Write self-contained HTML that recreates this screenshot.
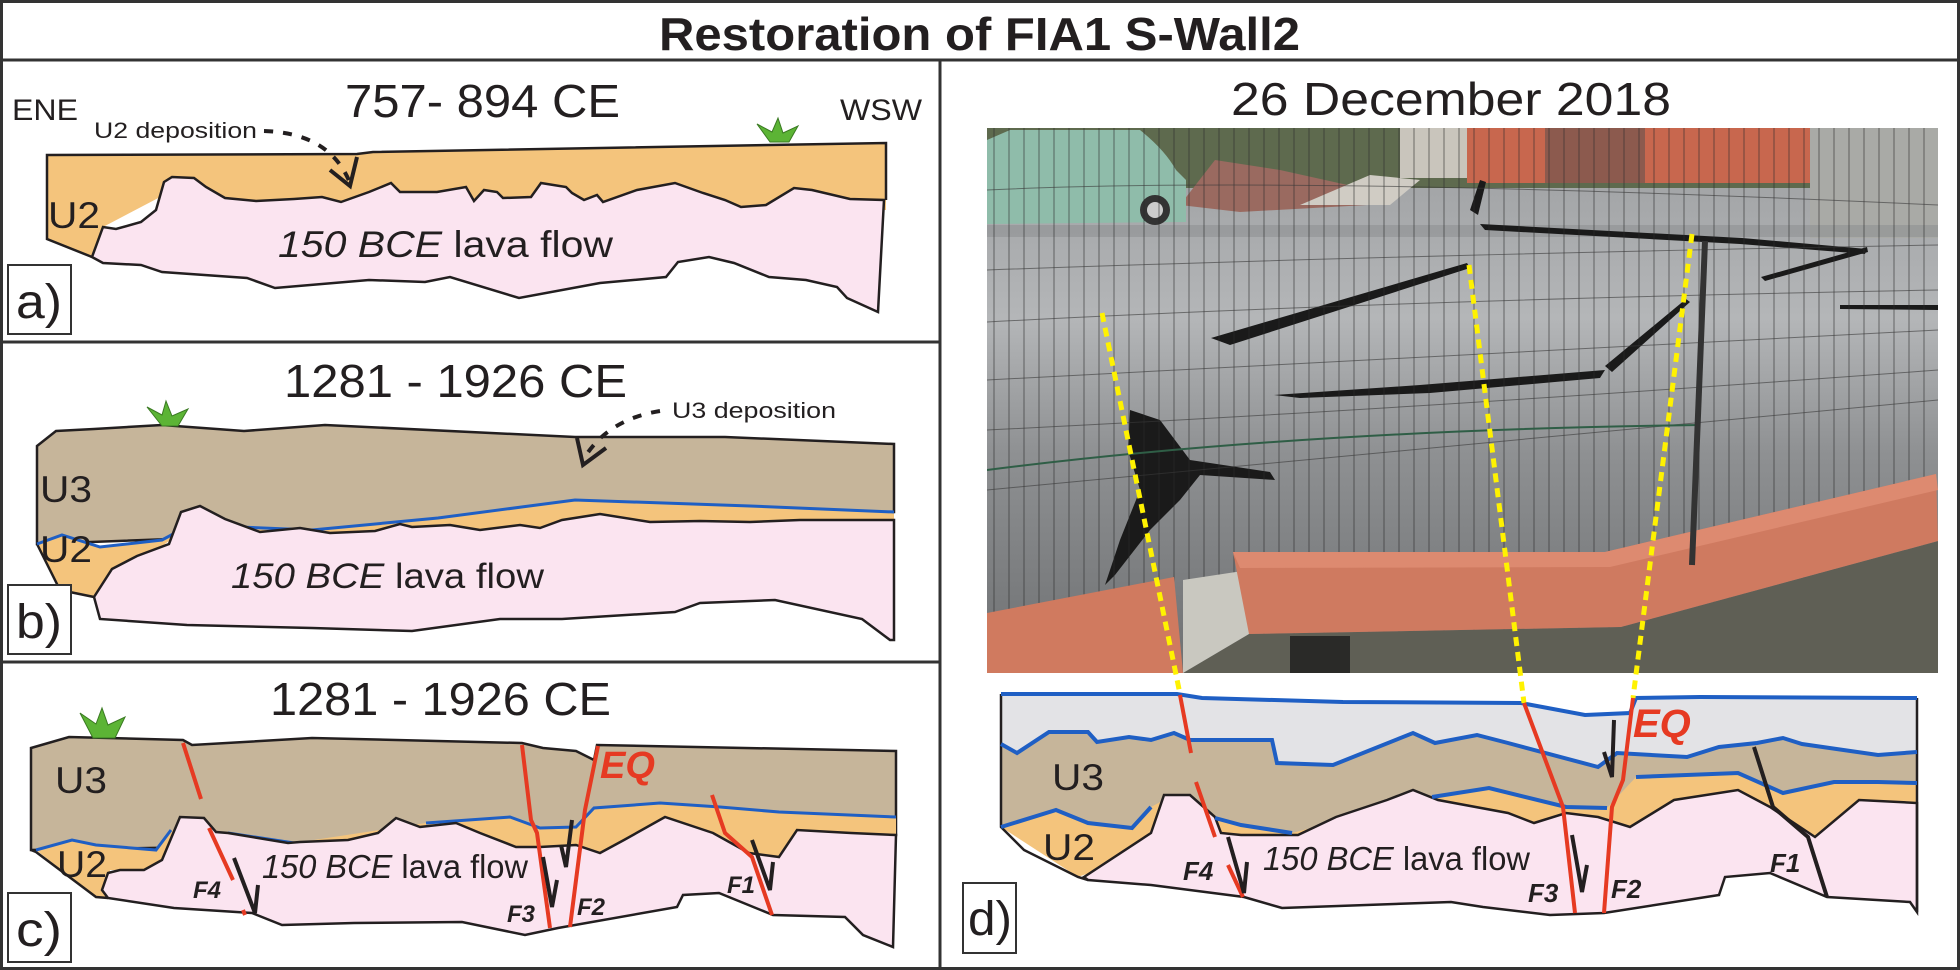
<!DOCTYPE html>
<html><head><meta charset="utf-8"><style>html,body{margin:0;padding:0;background:#fff}svg{display:block}text{font-family:"Liberation Sans",Arial,sans-serif;fill:#231f20}</style></head>
<body>
<svg width="1960" height="970" viewBox="0 0 1960 970" xmlns="http://www.w3.org/2000/svg">
<defs>
<pattern id="fence" x="987" y="0" width="15" height="30" patternUnits="userSpaceOnUse">
<line x1="7" y1="0" x2="7" y2="30" stroke="#2a2a2a" stroke-width="1" opacity="0.6"/>
</pattern>
<linearGradient id="asph" x1="0" y1="0" x2="0" y2="1">
<stop offset="0" stop-color="#9c9ea0"/><stop offset="0.35" stop-color="#b4b6b8"/><stop offset="0.6" stop-color="#8e9092"/><stop offset="1" stop-color="#6e7072"/>
</linearGradient>
<clipPath id="ph"><rect x="987" y="128" width="951" height="545"/></clipPath>
</defs>
<rect width="1960" height="970" fill="#fff"/>
<rect x="1.5" y="1.5" width="1957" height="967" fill="none" stroke="#333" stroke-width="3"/>
<line x1="0" y1="60" x2="1960" y2="60" stroke="#333" stroke-width="3"/>
<line x1="940" y1="60" x2="940" y2="970" stroke="#333" stroke-width="3"/>
<line x1="0" y1="342" x2="940" y2="342" stroke="#333" stroke-width="3"/>
<line x1="0" y1="662" x2="940" y2="662" stroke="#333" stroke-width="3"/>
<text x="659" y="50" font-size="46" font-weight="bold" textLength="641" lengthAdjust="spacingAndGlyphs">Restoration of FIA1 S-Wall2</text>

<!-- Panel a -->
<text x="345" y="117" font-size="46" textLength="275" lengthAdjust="spacingAndGlyphs">757- 894 CE</text>
<text x="12" y="120" font-size="30" textLength="66" lengthAdjust="spacingAndGlyphs">ENE</text>
<text x="840" y="120" font-size="30" textLength="82" lengthAdjust="spacingAndGlyphs">WSW</text>
<text x="94" y="138" font-size="22" textLength="163" lengthAdjust="spacingAndGlyphs">U2 deposition</text>
<polygon points="47,155 357,154 373,152 886,143 886,210 300,210 164,195 103,227 92,257 47,239" fill="#f4c47c"/>
<path d="M92 257 L47 239 L47 155 L357 154 L373 152 L886 143 L886 200" fill="none" stroke="#231f20" stroke-width="2.5"/>
<polygon points="92,257 103,227 116,229 141,222 156,210 164,182 172,177 194,178 206,187 225,198 256,201 294,199 322,197 341,202 369,192 391,183 400,192 437,192 466,187 474,201 484,190 497,192 503,198 531,197 541,183 566,187 572,193 584,200 597,195 603,202 637,190 675,183 703,193 725,200 741,207 766,205 794,188 812,190 850,199 884,200 878,312 847,298 837,287 806,280 769,277 734,263 709,257 678,262 666,277 600,283 519,298 450,277 425,282 369,280 275,288 247,278 162,272 141,265 103,263" fill="#fbe4f0" stroke="#231f20" stroke-width="2.5"/>
<text x="48" y="228" font-size="37" textLength="52" lengthAdjust="spacingAndGlyphs">U2</text>
<text x="278" y="257" font-size="37" textLength="335" lengthAdjust="spacingAndGlyphs"><tspan font-style="italic">150 BCE</tspan> lava flow</text>
<path d="M264 131 Q330 133 350 183" fill="none" stroke="#231f20" stroke-width="4" stroke-dasharray="9,10"/>
<path d="M330 170 L350 186 L357 157" fill="none" stroke="#231f20" stroke-width="4"/>
<path d="M770 142 L757 124 L772 132 L778 118 L783 133 L798 126 L789 142 Z" fill="#5cb435" stroke="#3a7a22" stroke-width="1"/>
<rect x="8" y="265" width="63" height="69" fill="#fff" stroke="#333" stroke-width="2"/>
<text x="16" y="318" font-size="48" textLength="46" lengthAdjust="spacingAndGlyphs">a)</text>

<!-- Panel b -->
<text x="284" y="397" font-size="46" textLength="343" lengthAdjust="spacingAndGlyphs">1281 - 1926 CE</text>
<text x="672" y="418" font-size="22" textLength="164" lengthAdjust="spacingAndGlyphs">U3 deposition</text>
<polygon points="37,446 56,431 94,429 162,425 244,431 325,425 575,437 725,437 894,444 894,512 37,544" fill="#c6b59a" stroke="#231f20" stroke-width="2.5"/>
<polygon points="37,544 62,535 100,547 162,540 190,525 312,530 438,518 575,500 750,506 894,512 894,532 181,532 94,597 60,590" fill="#f4c47c" stroke="none"/>
<path d="M37 544 L60 590 L94 597" fill="none" stroke="#231f20" stroke-width="2.5"/>
<polyline points="37,544 62,535 100,547 162,540 190,525 312,530 438,518 575,500 750,506 894,512" fill="none" stroke="#1f5fc4" stroke-width="3"/>
<polygon points="94,597 112,569 137,556 169,544 181,512 200,506 225,519 260,532 300,528 330,533 375,531 400,524 412,527 450,525 480,530 520,525 540,528 562,520 600,514 650,522 700,521 750,522 800,520 894,520 894,640 890,640 862,619 775,600 700,603 675,612 562,619 500,619 412,631 312,628 187,625 100,619" fill="#fbe4f0" stroke="#231f20" stroke-width="2.5"/>
<text x="40" y="502" font-size="37" textLength="52" lengthAdjust="spacingAndGlyphs">U3</text>
<text x="40" y="562" font-size="37" textLength="52" lengthAdjust="spacingAndGlyphs">U2</text>
<text x="231" y="588" font-size="35" textLength="313" lengthAdjust="spacingAndGlyphs"><tspan font-style="italic">150 BCE</tspan> lava flow</text>
<path d="M660 411 Q605 420 582 462" fill="none" stroke="#231f20" stroke-width="4" stroke-dasharray="9,10"/>
<path d="M577 438 L583 465 L606 448" fill="none" stroke="#231f20" stroke-width="4"/>
<path d="M162 426 L147 407 L162 415 L166 401 L172 416 L188 409 L178 426 Z" fill="#5cb435" stroke="#3a7a22" stroke-width="1"/>
<rect x="8" y="585" width="63" height="69" fill="#fff" stroke="#333" stroke-width="2"/>
<text x="16" y="638" font-size="48" textLength="46" lengthAdjust="spacingAndGlyphs">b)</text>

<!-- Panel c -->
<text x="270" y="715" font-size="46" textLength="341" lengthAdjust="spacingAndGlyphs">1281 - 1926 CE</text>
<polygon points="31,748 69,737 183,740 192,745 312,738 522,743 543,748 576,751 594,760 597,745 896,751 896,835 31,850" fill="#c6b59a" stroke="#231f20" stroke-width="2.5"/>
<polygon points="36,850 72,840 96,845 156,850 171,830 228,833 294,843 426,823 510,817 540,828 576,827 594,808 660,803 720,807 779,812 896,817 896,870 110,870 108,898 96,897" fill="#f4c47c"/>
<path d="M31 850 L36 852 L96 897 L108 898" fill="none" stroke="#231f20" stroke-width="2.5"/>
<polyline points="36,850 72,840 96,845 156,850 171,830" fill="none" stroke="#1f5fc4" stroke-width="3"/>
<polyline points="228,833 294,843" fill="none" stroke="#1f5fc4" stroke-width="3"/>
<polyline points="426,823 510,817 540,828 576,827 594,808 660,803 720,807 779,812 896,817" fill="none" stroke="#1f5fc4" stroke-width="3"/>
<polygon points="108,873 120,870 144,870 162,860 180,817 204,818 216,832 228,833 288,843 300,842 348,840 378,833 396,818 420,827 456,823 480,833 516,847 540,847 576,845 600,853 624,840 665,817 713,833 749,853 779,857 797,830 851,833 896,835 893,947 863,935 845,917 773,915 719,893 683,895 677,907 558,928 525,935 462,922 354,923 282,925 252,913 174,908 108,898 102,890" fill="#fbe4f0" stroke="#231f20" stroke-width="2.5"/>
<g stroke="#e63a22" stroke-width="4" fill="none">
<path d="M183 743 L201 799"/><path d="M209 828 L233 880"/><path d="M243 910 L245 915"/>
<path d="M522 745 L531 820 L537 833 L550 928"/>
<path d="M598 746 L585 810 L570 927"/>
<path d="M712 795 L725 833 L752 857 L772 915"/>
</g>
<g stroke="#231f20" stroke-width="4" fill="none">
<path d="M234 858 L255 913 L258 885"/>
<path d="M543 857 L552 907 L557 880"/>
<path d="M572 820 L566 867 L561 845"/>
<path d="M752 840 L770 890 L773 862"/>
</g>
<text x="55" y="793" font-size="37" textLength="52" lengthAdjust="spacingAndGlyphs">U3</text>
<text x="57" y="877" font-size="37" textLength="50" lengthAdjust="spacingAndGlyphs">U2</text>
<text x="262" y="878" font-size="33" textLength="266" lengthAdjust="spacingAndGlyphs"><tspan font-style="italic">150 BCE</tspan> lava flow</text>
<g font-weight="bold" font-style="italic" font-size="24">
<text x="193" y="898">F4</text><text x="507" y="922">F3</text><text x="577" y="915">F2</text><text x="727" y="893">F1</text>
</g>
<text x="600" y="778" font-size="38" font-weight="bold" font-style="italic" style="fill:#e63a22">EQ</text>
<path d="M93 738 L80 713 L96 724 L102 708 L108 725 L125 717 L115 738 Z" fill="#5cb435" stroke="#3a7a22" stroke-width="1"/>
<rect x="8" y="893" width="63" height="69" fill="#fff" stroke="#333" stroke-width="2"/>
<text x="16" y="946" font-size="48" textLength="46" lengthAdjust="spacingAndGlyphs">c)</text>

<!-- Panel d -->
<text x="1231" y="115" font-size="46" textLength="440" lengthAdjust="spacingAndGlyphs">26 December 2018</text>
<g clip-path="url(#ph)">
<rect x="987" y="128" width="951" height="545" fill="url(#asph)"/>
<rect x="987" y="128" width="951" height="60" fill="#5e6a4e"/>
<rect x="1400" y="128" width="80" height="50" fill="#c9c5bc"/>
<rect x="1467" y="128" width="350" height="55" fill="#c8674e"/>
<rect x="1545" y="128" width="100" height="55" fill="#8c5a4e"/>
<rect x="1810" y="128" width="128" height="110" fill="#a9aaa6"/>
<polygon points="1180,205 1215,160 1280,170 1370,190 1367,205 1240,212" fill="#9a6a60"/>
<polygon points="1300,205 1370,175 1420,180 1390,205" fill="#d0ccc4"/>
<path d="M987 224 L987 140 L1010 130 L1140 130 Q1165 150 1176 170 L1186 180 L1186 222 Z" fill="#8fbcaa"/>
<circle cx="1155" cy="210" r="15" fill="#333"/><circle cx="1155" cy="210" r="8" fill="#ccc"/>
<rect x="987" y="225" width="951" height="12" fill="#8a8c8e" opacity="0.5"/>
<g fill="#1a1a1a">
<polygon points="1211,338 1467,263 1470,268 1230,345"/>
<polygon points="1274,395 1420,385 1605,370 1600,378 1430,393 1300,398"/>
<polygon points="1605,366 1686,299 1690,302 1612,372"/>
<polygon points="1480,224 1742,238 1867,249 1865,254 1740,244 1485,230"/>
<polygon points="1761,277 1867,247 1868,252 1765,281"/>
<polygon points="1130,410 1160,420 1190,460 1270,472 1275,480 1200,475 1180,500 1150,530 1115,575 1105,585 1120,540 1140,490 1128,450"/>
<polygon points="1470,210 1480,180 1486,182 1478,215"/>
<polygon points="1840,305 1938,305 1938,310 1840,309"/>
</g>
<rect x="987" y="128" width="951" height="545" fill="url(#fence)"/>
<g stroke="#3a3a3a" stroke-width="1" fill="none" opacity="0.6">
<path d="M987 190 Q1300 175 1938 205"/><path d="M987 270 Q1400 255 1938 245"/><path d="M987 322 Q1400 300 1938 290"/>
<path d="M987 380 Q1400 360 1938 330"/><path d="M987 430 Q1400 410 1938 370"/><path d="M987 490 Q1400 450 1938 400"/>
</g>
<path d="M987 470 Q1300 430 1700 425" stroke="#2f5e46" stroke-width="2" fill="none"/>
<polygon points="1183,673 1249,634 1621,627 1938,541 1938,673" fill="#5f5f55"/>
<polygon points="1183,580 1249,570 1249,634 1183,673" fill="#c9c8c0"/>
<polygon points="987,613 1174,577 1183,673 987,673" fill="#d07a5f"/>
<polygon points="1233,552 1605,552 1936,474 1938,541 1621,627 1249,634" fill="#cf7a60"/>
<polygon points="1233,552 1605,552 1936,474 1938,490 1610,567 1240,568" fill="#dd8a70"/>
<rect x="1290" y="636" width="60" height="37" fill="#2a2a28"/>
<line x1="1705" y1="241" x2="1692" y2="565" stroke="#333" stroke-width="6"/>
</g>
<!-- section d -->
<polygon points="1001,694 1177,694 1202,698 1343,702 1521,703 1585,715 1630,713 1636,698 1700,697 1917,698 1917,860 1001,827" fill="#e3e3e6"/>
<polygon points="1001,744 1017,753 1049,732 1088,732 1097,742 1129,737 1151,740 1174,733 1190,740 1272,740 1277,763 1333,765 1413,733 1435,743 1477,735 1508,743 1598,767 1617,753 1687,757 1719,747 1757,743 1783,738 1802,744 1878,755 1917,752 1917,860 1001,827" fill="#c6b59a"/>
<polygon points="1001,827 1056,810 1088,823 1132,828 1151,807 1164,800 1215,818 1292,833 1432,797 1489,788 1566,807 1607,808 1636,777 1738,773 1783,793 1834,782 1878,782 1917,783 1917,862 1120,862 1078,877" fill="#f4c47c"/>
<polygon points="1084,877 1151,833 1164,795 1190,795 1215,817 1221,833 1241,835 1298,835 1336,817 1387,800 1413,790 1438,800 1508,813 1534,823 1566,813 1598,817 1630,827 1674,800 1738,790 1770,807 1815,837 1859,800 1917,803 1917,912 1910,902 1827,897 1770,873 1725,877 1719,895 1604,913 1550,915 1483,907 1451,902 1282,908 1244,897 1151,885 1088,880" fill="#fbe4f0" stroke="#231f20" stroke-width="2.5"/>
<path d="M1001 694 L1001 827 L1024 850 L1078 877 L1088 880" fill="none" stroke="#231f20" stroke-width="2.5"/>
<line x1="1917" y1="698" x2="1917" y2="912" stroke="#231f20" stroke-width="2.5"/>
<g fill="none" stroke="#1f5fc4" stroke-width="4">
<polyline points="1001,694 1177,694 1202,698 1343,702 1521,703 1585,715 1630,713 1636,698 1700,697 1917,698"/>
<polyline points="1001,744 1017,753 1049,732 1088,732 1097,742 1129,737 1151,740 1174,733 1190,740 1272,740 1277,763 1333,765 1413,733 1435,743 1477,735 1508,743 1598,767 1617,753 1687,757 1719,747 1757,743 1783,738 1802,744 1878,755 1917,752"/>
<polyline points="1001,827 1056,810 1088,823 1132,828 1151,807"/>
<polyline points="1215,818 1241,825 1292,833"/>
<polyline points="1432,797 1489,788 1566,807 1607,808"/>
<polyline points="1636,777 1738,773 1783,793 1834,782 1878,782 1917,783"/>
</g>
<g stroke="#fff200" stroke-width="5" stroke-dasharray="9,6" fill="none">
<path d="M1102 313 L1180 694"/><path d="M1469 265 L1524 703"/><path d="M1692 234 L1633 698"/>
</g>
<g stroke="#e63a22" stroke-width="4" fill="none">
<path d="M1180 695 L1191 753"/><path d="M1196 782 L1215 837"/><path d="M1228 865 L1243 897"/>
<path d="M1524 703 L1563 807 L1575 913"/>
<path d="M1633 698 L1623 780 L1612 807 L1604 913"/>
</g>
<path d="M1754 747 L1773 807 L1808 837 L1827 897" fill="none" stroke="#231f20" stroke-width="4"/>
<g stroke="#231f20" stroke-width="4" fill="none">
<path d="M1228 837 L1244 893 L1247 862"/>
<path d="M1614 720 L1612 777 L1604 752"/>
<path d="M1572 835 L1582 892 L1587 865"/>
</g>
<text x="1052" y="790" font-size="37" textLength="52" lengthAdjust="spacingAndGlyphs">U3</text>
<text x="1043" y="860" font-size="37" textLength="52" lengthAdjust="spacingAndGlyphs">U2</text>
<text x="1263" y="870" font-size="33" textLength="267" lengthAdjust="spacingAndGlyphs"><tspan font-style="italic">150 BCE</tspan> lava flow</text>
<g font-weight="bold" font-style="italic" font-size="26">
<text x="1183" y="880">F4</text><text x="1528" y="902">F3</text><text x="1611" y="898">F2</text><text x="1770" y="872">F1</text>
</g>
<text x="1633" y="737" font-size="40" font-weight="bold" font-style="italic" style="fill:#e63a22">EQ</text>
<rect x="963" y="883" width="53" height="70" fill="#fff" stroke="#333" stroke-width="2"/>
<text x="968" y="935" font-size="48" textLength="44" lengthAdjust="spacingAndGlyphs">d)</text>
</svg>
</body></html>
